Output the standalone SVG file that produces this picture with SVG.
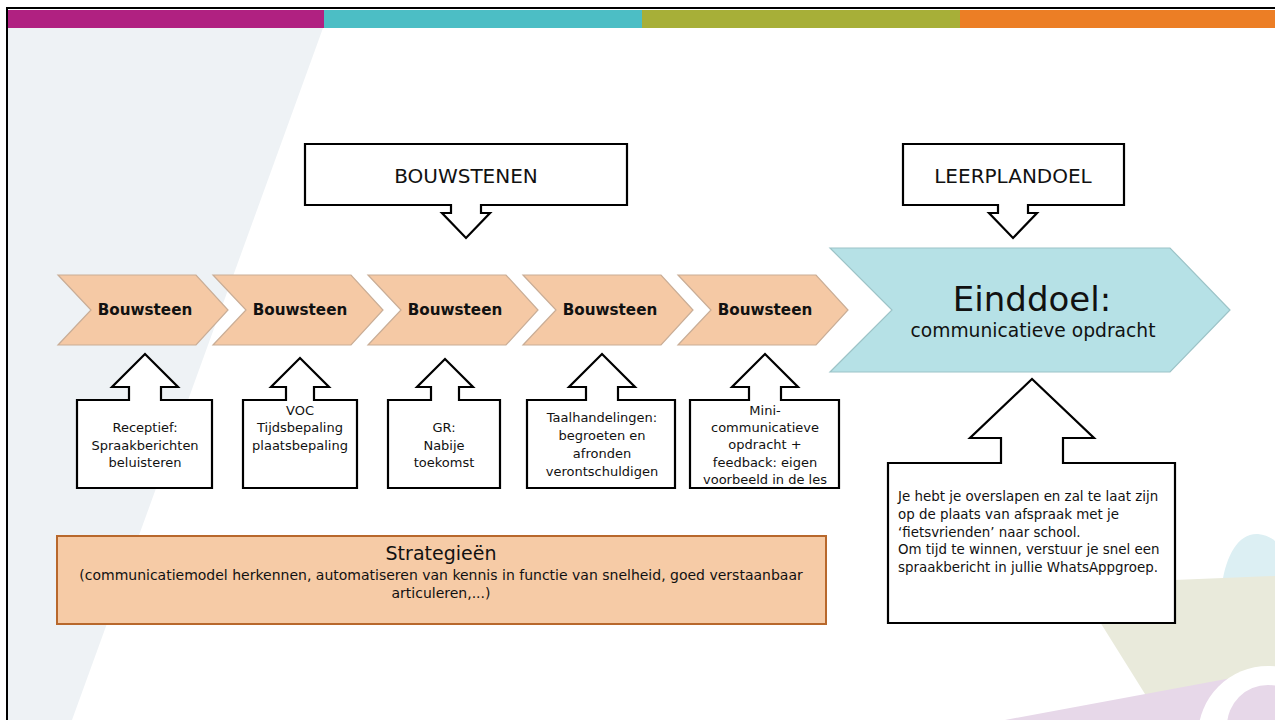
<svg xmlns="http://www.w3.org/2000/svg" width="1275" height="720" viewBox="0 0 1275 720">
<style>
.chev{fill:#F5C9A5;stroke:#C9AD96;stroke-width:1.2}
.goal{fill:#B6E1E6;stroke:#9CC3C7;stroke-width:1.2}
.call{fill:#FFFFFF;stroke:#000000;stroke-width:2.2;stroke-linejoin:miter}
.t{font-family:"DejaVu Sans","Liberation Sans",sans-serif;fill:#111111}
.bw{font-size:15.2px;font-weight:bold;text-anchor:middle}
.sm{font-size:13px;text-anchor:middle}
.hd{font-size:20px;text-anchor:middle}
</style>
<rect x="0" y="0" width="1275" height="720" fill="#FFFFFF"/>
<g id="background">
<polygon points="8,28 323,28 72,720 8,720" fill="#EEF2F5"/>
<path d="M1222,584 C1226,556 1238,533 1258,534 C1266,535 1272,538 1275,541 L1275,584 Z" fill="#DCEFF3"/>
<polygon points="1100,622 1125,582 1275,576 1275,684 1200,697 1150,702" fill="#E9EADB"/>
<polygon points="1005,720 1275,670 1275,720" fill="#E7D8E9"/>
<circle cx="1268" cy="736" r="70" fill="#FFFFFF"/>
<circle cx="1268" cy="726" r="41" fill="#E7D8E9"/>
<rect x="8" y="10" width="316" height="18" fill="#B02181"/>
<rect x="324" y="10" width="318" height="18" fill="#4CBEC5"/>
<rect x="642" y="10" width="318" height="18" fill="#A7AF38"/>
<rect x="960" y="10" width="315" height="18" fill="#EC7E25"/>
<path d="M7,720 V8 H1275" fill="none" stroke="#000000" stroke-width="2"/>
</g>
<g id="connectors"></g>
<g id="bouwsteen1">
<polygon class="chev" points="58,275 196,275 228,310 196,345 58,345 91,310"/>
<text class="t bw" x="145" y="315">Bouwsteen</text>
</g>
<g id="bouwsteen2">
<polygon class="chev" points="213,275 351,275 383,310 351,345 213,345 246,310"/>
<text class="t bw" x="300" y="315">Bouwsteen</text>
</g>
<g id="bouwsteen3">
<polygon class="chev" points="368,275 506,275 538,310 506,345 368,345 401,310"/>
<text class="t bw" x="455" y="315">Bouwsteen</text>
</g>
<g id="bouwsteen4">
<polygon class="chev" points="523,275 661,275 693,310 661,345 523,345 556,310"/>
<text class="t bw" x="610" y="315">Bouwsteen</text>
</g>
<g id="bouwsteen5">
<polygon class="chev" points="678,275 816,275 848,310 816,345 678,345 711,310"/>
<text class="t bw" x="765" y="315">Bouwsteen</text>
</g>
<g id="einddoel">
<polygon class="goal" points="830,248 1170,248 1230,310 1170,372 830,372 892,310"/>
<text class="t" x="1032" y="311" font-size="34" text-anchor="middle">Einddoel:</text>
<text class="t" x="1033" y="337" font-size="18.7" text-anchor="middle">communicatieve opdracht</text>
</g>
<g id="bouwstenen">
<path class="call" d="M305,144 H627 V205 H481 V213 H490 L466,238 L442,213 H451 V205 H305 Z"/>
<text class="t hd" x="466" y="183">BOUWSTENEN</text>
</g>
<g id="leerplandoel">
<path class="call" d="M903,144 H1124 V205 H1028 V213 H1037 L1013,238 L989,213 H998 V205 H903 Z"/>
<text class="t hd" x="1013" y="183">LEERPLANDOEL</text>
</g>
<g id="callout1">
<path class="call" d="M77,400 H129 V387 H112 L145,354 L178,387 H161 V400 H212 V488 H77 Z"/>
<text class="t sm"><tspan x="145" y="432">Receptief:</tspan><tspan x="145" y="450">Spraakberichten</tspan><tspan x="145" y="467">beluisteren</tspan></text>
</g>
<g id="callout2">
<path class="call" d="M243,400 H286 V387 H271 L300,358 L329,387 H314 V400 H357 V488 H243 Z"/>
<text class="t sm"><tspan x="300" y="415">VOC</tspan><tspan x="300" y="432">Tijdsbepaling</tspan><tspan x="300" y="450">plaatsbepaling</tspan></text>
</g>
<g id="callout3">
<path class="call" d="M388,400 H431 V387 H417 L445,359 L473,387 H459 V400 H500 V488 H388 Z"/>
<text class="t sm"><tspan x="444" y="432">GR:</tspan><tspan x="444" y="450">Nabije</tspan><tspan x="444" y="467">toekomst</tspan></text>
</g>
<g id="callout4">
<path class="call" d="M527,400 H586 V387 H569 L602,354 L635,387 H618 V400 H675 V488 H527 Z"/>
<text class="t sm"><tspan x="602" y="422">Taalhandelingen:</tspan><tspan x="602" y="440">begroeten en</tspan><tspan x="602" y="458">afronden</tspan><tspan x="602" y="476">verontschuldigen</tspan></text>
</g>
<g id="callout5">
<path class="call" d="M690,400 H749 V387 H732 L765,354 L798,387 H781 V400 H839 V488 H690 Z"/>
<text class="t sm"><tspan x="765" y="415">Mini-</tspan><tspan x="765" y="432">communicatieve</tspan><tspan x="765" y="449">opdracht +</tspan><tspan x="765" y="467">feedback: eigen</tspan><tspan x="765" y="484">voorbeeld in de les</tspan></text>
</g>
<g id="opdracht">
<path class="call" d="M888,463 H1001 V438 H970 L1032,379 L1094,438 H1063 V463 H1175 V623 H888 Z"/>
<text class="t" font-size="13.4"><tspan x="898" y="501">Je hebt je overslapen en zal te laat zijn</tspan><tspan x="898" y="519">op de plaats van afspraak met je</tspan><tspan x="898" y="537">‘fietsvrienden’ naar school.</tspan><tspan x="898" y="554">Om tijd te winnen, verstuur je snel een</tspan><tspan x="898" y="572">spraakbericht in jullie WhatsAppgroep.</tspan></text>
</g>
<g id="strategieen">
<rect x="57" y="536" width="769" height="88" fill="#F6CBA6" stroke="#B8682C" stroke-width="2"/>
<text class="t" x="441" y="560" font-size="19" text-anchor="middle">Strategieën</text>
<text class="t" x="441" y="580" font-size="14" text-anchor="middle">(communicatiemodel herkennen, automatiseren van kennis in functie van snelheid, goed verstaanbaar</text>
<text class="t" x="441" y="598" font-size="14" text-anchor="middle">articuleren,...)</text>
</g>
</svg>
